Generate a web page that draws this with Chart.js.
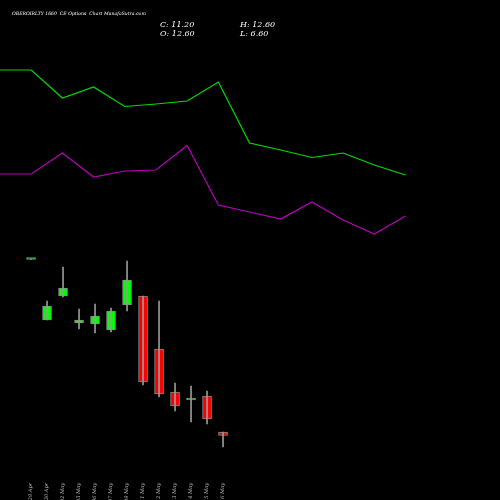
<!DOCTYPE html>
<html>
<head>
<meta charset="utf-8">
<script src="https://cdn.jsdelivr.net/npm/chart.js@4"></script>
<style>
  html, body { margin: 0; padding: 0; background: #000; }
  #wrap { width: 500px; height: 500px; }
</style>
</head>
<body>
<div id="wrap"><canvas id="c"></canvas></div>
<script>
const dates = ['29 Apr', '30 Apr', '02 May', '03 May', '06 May', '07 May', '09 May',
               '11 May', '12 May', '13 May', '14 May', '15 May', '16 May'];
const opens  = [81.6, 57.4, 67.0, 56.2, 55.8, 53.4, 63.4, 67.0, 45.8, 28.6, 25.4, 27.0, 12.6];
const closes = [81.8, 63.0, 70.2, 57.4, 59.0, 61.0, 73.4, 32.6, 27.8, 23.0, 26.2, 17.8, 11.2];
const highs  = [81.8, 65.0, 78.6, 61.8, 63.8, 62.2, 81.0, 67.0, 65.0, 32.2, 31.0, 29.0, 12.6];
const lows   = [81.6, 57.4, 66.6, 53.8, 52.2, 52.6, 61.0, 31.4, 26.6, 21.0, 16.6, 15.8, 6.6];

// indicator lines (own scale)
const greenLine   = [430, 430, 402, 413, 393.5, 396, 399, 418, 357, 350, 342.5, 347, 335, 325];
const magentaLine = [326, 326, 347, 323, 329, 330, 354.5, 295, 288, 281, 298, 280, 266, 284];

const titleText = 'OBEROIRLTY 1660  CE Options  Chart MunafaSutra.com';
const ohlcText = { C: '11.20', O: '12.60', H: '12.60', L: '6.60' };

const up = dates.map((d, i) => closes[i] >= opens[i]);
const bodyColors = up.map(u => u ? '#00ff00' : '#ff0000');

const labelsPlugin = {
  id: 'labels',
  afterDraw(chart) {
    const ctx = chart.ctx;
    const x = chart.scales.x;
    ctx.save();
    ctx.fillStyle = '#fff';
    ctx.font = 'italic 4.6px "DejaVu Serif"';
    ctx.textBaseline = 'middle';
    ctx.fillText(titleText, 12, 14);
    ctx.font = 'italic 8px "DejaVu Serif"';
    ctx.fillText('C: ' + ohlcText.C, 160, 25);
    ctx.fillText('O: ' + ohlcText.O, 160, 34);
    ctx.fillText('H: ' + ohlcText.H, 240, 25);
    ctx.fillText('L: ' + ohlcText.L, 240, 34);
    ctx.fillStyle = '#bbb';
    ctx.font = 'italic 5px "DejaVu Serif"';
    ctx.textAlign = 'right';
    dates.forEach((d, i) => {
      ctx.save();
      ctx.translate(x.getPixelForValue(i), 467);
      ctx.rotate(-Math.PI / 2);
      ctx.fillText(d, -16, 0);
      ctx.restore();
    });
    ctx.restore();
  }
};

new Chart(document.getElementById('c'), {
  type: 'bar',
  data: {
    datasets: [
      {
        type: 'line',
        data: greenLine.map((v, j) => ({ x: j, y: v })),
        xAxisID: 'x2', yAxisID: 'y2',
        borderColor: '#00dd00', borderWidth: 1.2, pointRadius: 0, tension: 0
      },
      {
        type: 'line',
        data: magentaLine.map((v, j) => ({ x: j, y: v })),
        xAxisID: 'x2', yAxisID: 'y2',
        borderColor: '#bb00bb', borderWidth: 1.2, pointRadius: 0, tension: 0
      },
      {
        data: dates.map((d, i) => ({ x: i, y: [lows[i], highs[i]] })),
        backgroundColor: '#999', barThickness: 1, grouped: false
      },
      {
        data: dates.map((d, i) => ({ x: i, y: [opens[i], closes[i]] })),
        backgroundColor: bodyColors, borderColor: '#888', borderWidth: 1,
        borderSkipped: false, barThickness: 9, minBarLength: 2, grouped: false
      }
    ]
  },
  options: {
    animation: false,
    responsive: true,
    maintainAspectRatio: false,
    layout: { padding: 0 },
    plugins: { legend: { display: false }, tooltip: { enabled: false } },
    scales: {
      x: { type: 'linear', min: -1.94, max: 29.31, offset: false, display: false },
      y: { min: -14.6, max: 185.4, display: false },
      x2: { type: 'linear', min: 0, max: 16.03, offset: false, display: false },
      y2: { min: 0, max: 500, display: false }
    }
  },
  plugins: [labelsPlugin]
});
</script>
</body>
</html>
